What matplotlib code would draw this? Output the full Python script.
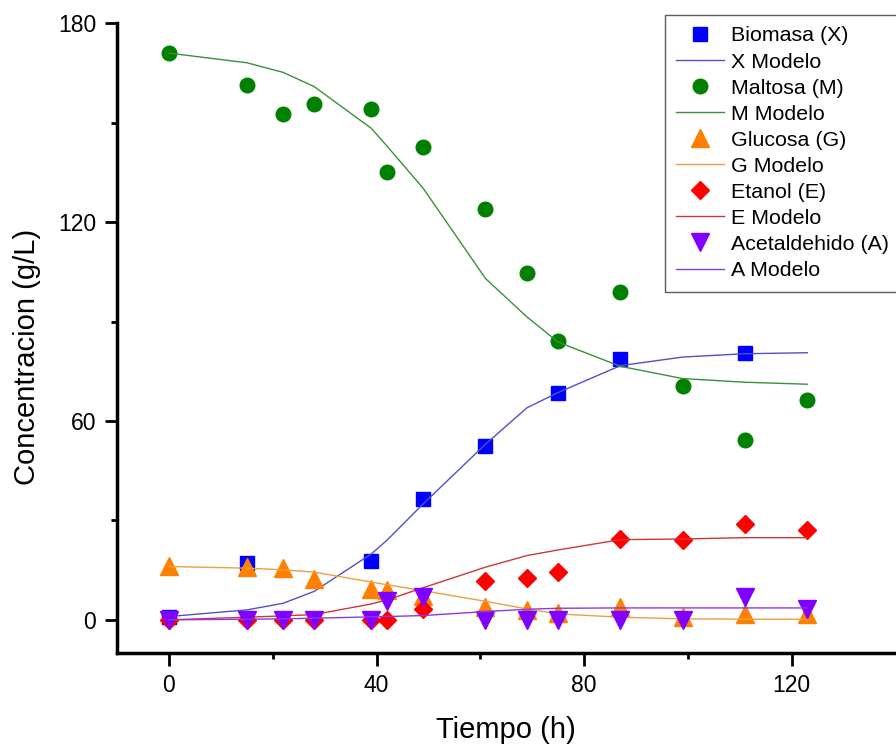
# Batch fermentation: measured concentrations vs. model curves
import numpy as np
import matplotlib
matplotlib.use('Agg')
import matplotlib.pyplot as plt
from matplotlib.ticker import MultipleLocator

plt.rcParams['font.family'] = ['Liberation Sans', 'DejaVu Sans']

# ── Measured data (h, g/L) ──────────────────────────────────────────────
t_x = [0, 15, 39, 49, 61, 75, 87, 111]
biomasa = [1.0, 17.3, 17.9, 36.6, 52.6, 68.6, 78.8, 80.4]

t_all = [0, 15, 22, 28, 39, 42, 49, 61, 69, 75, 87, 99, 111, 123]
maltosa = [171.0, 161.4, 152.5, 155.6, 154.2, 135.2, 142.7, 123.9, 104.6,
           84.2, 98.9, 70.6, 54.2, 66.4]
glucosa = [16.4, 15.9, 15.7, 12.4, 9.4, 9.1, 7.3, 4.0, 3.1, 2.0, 4.0,
           0.8, 1.8, 1.8]
etanol = [0.0, 0.0, 0.0, 0.0, 0.0, 0.0, 3.3, 11.7, 12.6, 14.5, 24.3,
          24.2, 29.0, 27.0]
acetaldehido = [0.0, 0.0, 0.0, 0.0, 0.0, 5.8, 6.8, 0.0, 0.0, 0.0, 0.0,
                0.0, 7.0, 3.3]

# ── Model curves ────────────────────────────────────────────────────────
t_mod = [0, 15, 22, 28, 39, 42, 49, 61, 69, 75, 87, 99, 111, 123]
x_mod = [1.0, 3.0, 5.0, 8.6, 19.9, 24.0, 35.0, 53.0, 64.0, 68.6, 76.7,
         79.3, 80.3, 80.6]
m_mod = [171.0, 168.1, 165.2, 160.9, 148.3, 143.0, 130.2, 103.0, 91.4,
         83.8, 76.5, 72.8, 71.7, 71.1]
g_mod = [16.1, 15.6, 15.1, 14.4, 11.4, 10.6, 8.8, 5.6, 3.3, 1.8, 0.8,
         0.3, 0.2, 0.2]
e_mod = [0.0, 0.8, 1.2, 1.6, 4.8, 6.0, 9.7, 15.9, 19.4, 21.1, 24.2,
         24.4, 24.8, 24.8]
a_mod = [0.0, 0.2, 0.3, 0.5, 0.9, 1.0, 1.3, 2.5, 3.2, 3.5, 3.6, 3.6,
         3.6, 3.6]

fig = plt.figure(figsize=(8.96, 7.51), dpi=100)
ax = fig.add_axes([117 / 896, 98 / 751, 778.5 / 896, 629.7 / 751])

ax.plot(t_x, biomasa, 's', color='#0000FF', ms=9.6, mec='#0000FF',
        label='Biomasa (X)')
ax.plot(t_mod, x_mod, '-', color='#5050C8', lw=1, label='X Modelo')
ax.plot(t_all, maltosa, 'o', color='#008000', ms=10.5, mec='#008000',
        label='Maltosa (M)')
ax.plot(t_mod, m_mod, '-', color='#3A913A', lw=1, label='M Modelo')
ax.plot(t_all, glucosa, '^', color='#FF8000', ms=12.5, mec='#FF8000',
        label='Glucosa (G)')
ax.plot(t_mod, g_mod, '-', color='#EBA040', lw=1, label='G Modelo')
ax.plot(t_all, etanol, 'D', color='#FF0000', ms=9.3, mec='#FF0000',
        label='Etanol (E)')
ax.plot(t_mod, e_mod, '-', color='#CC3838', lw=1, label='E Modelo')
ax.plot(t_all, acetaldehido, 'v', color='#8000FF', ms=12.5, mec='#8000FF',
        label='Acetaldehido (A)')
ax.plot(t_mod, a_mod, '-', color='#8A3AE0', lw=1, label='A Modelo')

ax.set_xlim(-10, 140)
ax.set_ylim(-10, 180)
ax.xaxis.set_major_locator(MultipleLocator(40))
ax.set_xticks([20, 60, 100], minor=True)
ax.yaxis.set_major_locator(MultipleLocator(60))
ax.yaxis.set_minor_locator(MultipleLocator(30))

for s in ['top', 'right']:
    ax.spines[s].set_visible(False)
for s in ['left', 'bottom']:
    ax.spines[s].set_linewidth(2.5)
ax.tick_params(which='major', direction='out', length=9, width=2,
               labelsize=16.5, pad=6)
ax.tick_params(which='minor', direction='out', length=4.5, width=2)

ax.set_xlabel('Tiempo (h)', fontsize=21)
ax.set_ylabel('Concentracion (g/L)', fontsize=21)
ax.xaxis.set_label_coords(0.5, -0.1)
ax.yaxis.set_label_coords(-0.098, 0.4706)

leg = fig.legend(loc='upper left', bbox_to_anchor=(664.7 / 896, 1 - 14.7 / 751),
                 bbox_transform=fig.transFigure, fontsize=15.4, frameon=True,
                 fancybox=False, edgecolor='#333333', borderaxespad=0,
                 handlelength=2.2, handletextpad=0.37, labelspacing=0.33,
                 borderpad=0.55, numpoints=1)
leg.get_frame().set_linewidth(1)

fig.savefig('out.png', dpi=100)
